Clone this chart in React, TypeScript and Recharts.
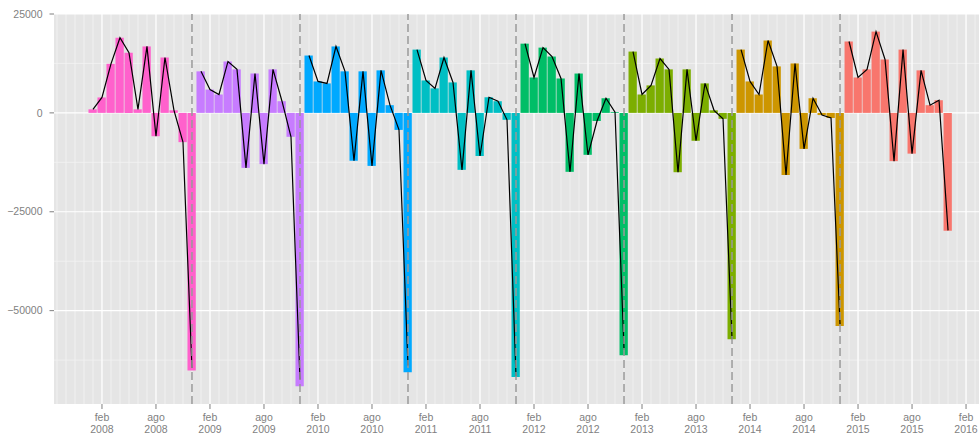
import React from 'react';
import { ComposedChart, Bar, Line, XAxis, YAxis, CartesianGrid, ReferenceLine, Cell } from 'recharts';

const years = [2008, 2009, 2010, 2011, 2012, 2013, 2014, 2015];
const yearColors = ['#FF61CC', '#C77CFF', '#00A9FF', '#00BFC4', '#00BE67', '#7CAE00', '#CD9600', '#F8766D'];
const monthNames = ['ene', 'feb', 'mar', 'abr', 'may', 'jun', 'jul', 'ago', 'sep', 'oct', 'nov', 'dic'];

const v2008 = [900, 3900, 12400, 19000, 15200, 900, 16800, -5900, 14000, 650, -7400, -65100];
const v2009 = [10500, 5900, 4650, 13000, 11000, -13900, 9950, -12950, 11000, 2950, -6050, -69100];
const v2010 = [14500, 7950, 7450, 16800, 10500, -12100, 10500, -13400, 10750, 1950, -4300, -65600];
const v2011 = [16000, 8200, 6200, 14000, 7700, -14400, 10750, -10900, 3950, 2950, -1750, -66800];
const v2012 = [17500, 8950, 16500, 14250, 8700, -14900, 9950, -10600, -2050, 3700, 200, -61300];
const v2013 = [15500, 4650, 6950, 13750, 11000, -15000, 11000, -7050, 7450, 650, -1500, -57200];
const v2014 = [16000, 7950, 4650, 18300, 11750, -15700, 12500, -9100, 3700, -550, -1300, -53900];
const v2015 = [18050, 8950, 11000, 20550, 13500, -12200, 16000, -10300, 10750, 1950, 3200, -29800];
const barValues = [v2008, v2009, v2010, v2011, v2012, v2013, v2014, v2015];
// the black line's December values (slightly differ from the bars)
const lineDecember = [-64500, -67400, -63900, -66600, -59900, -57200, -53500, -29700];

const xTickIdx = [1, 7, 13, 19, 25, 31, 37, 43, 49, 55, 61, 67, 73, 79, 85, 91, 97];
const yTicks = [-50000, -25000, 0, 25000];
const yMinorGrid = [-62500, -37500, -12500, 12500];
const yearEndIdx = [11, 23, 35, 47, 59, 71, 83];
const xDomain = [-4.33, 98.44];
const yDomain = [-73600, 25000];

const data: any[] = [];
years.forEach((yr, k) => {
  barValues[k].forEach((v, m) => {
    const row: any = { i: k * 12 + m, v, color: yearColors[k] };
    row['l' + yr] = m === 11 ? lineDecember[k] : v;
    data.push(row);
  });
});

const monthGrid: number[] = [];
for (let m = Math.ceil(xDomain[0]); m <= Math.floor(xDomain[1]); m++) monthGrid.push(m);

const FONT = '"Liberation Sans", Arial, Helvetica, sans-serif';
const TXT = '#7F7F7F';

const XTick = (props: any) => {
  const { x, y, payload } = props;
  const idx = payload.value as number;
  const m = monthNames[((idx % 12) + 12) % 12];
  const yr = 2008 + Math.floor(idx / 12);
  return (
    <text x={x} y={y} textAnchor="middle" fill={TXT} fontSize={10.5} fontFamily={FONT}>
      <tspan x={x} dy={10}>{m}</tspan>
      <tspan x={x} dy={11.5}>{yr}</tspan>
    </text>
  );
};

const fmtY = (v: number) => String(v).replace('-', '\u2212');

export default function App() {
  return (
    <div style={{ position: 'absolute', left: 0, top: 0, width: 979, height: 437, background: '#fff' }}>
      <ComposedChart width={979} height={437} data={data} margin={{ top: 14, right: 0, bottom: 0, left: 0 }}>
        <CartesianGrid
          fill="#E5E5E5"
          stroke="#F2F2F2"
          strokeWidth={0.8}
          verticalValues={monthGrid}
          horizontalValues={yMinorGrid}
        />
        <CartesianGrid
          fill="none"
          stroke="#FFFFFF"
          strokeWidth={1.1}
          verticalValues={xTickIdx}
          horizontalValues={yTicks}
        />
        <XAxis
          type="number"
          dataKey="i"
          domain={xDomain}
          allowDataOverflow
          ticks={xTickIdx}
          interval={0}
          height={33}
          axisLine={false}
          tickLine={{ stroke: TXT, strokeWidth: 1 }}
          tickSize={5}
          tickMargin={2}
          tick={<XTick />}
        />
        <YAxis
          type="number"
          domain={yDomain}
          allowDataOverflow
          ticks={yTicks}
          interval={0}
          width={54}
          axisLine={false}
          tickLine={{ stroke: TXT, strokeWidth: 1 }}
          tickSize={4.5}
          tickMargin={7}
          tickFormatter={fmtY}
          tick={{ fill: TXT, fontSize: 10.5, fontFamily: FONT }}
        />
        <Bar dataKey="v" barSize={8.3} isAnimationActive={false}>
          {data.map((d, k) => (
            <Cell key={k} fill={d.color} />
          ))}
        </Bar>
        {years.map((yr) => (
          <Line
            key={yr}
            type="linear"
            dataKey={'l' + yr}
            stroke="#000000"
            strokeWidth={1.2}
            dot={false}
            activeDot={false}
            isAnimationActive={false}
          />
        ))}
        {yearEndIdx.map((x) => (
          <ReferenceLine key={x} x={x} stroke="#999999" strokeWidth={1.5} strokeDasharray="8 4" />
        ))}
      </ComposedChart>
    </div>
  );
}
